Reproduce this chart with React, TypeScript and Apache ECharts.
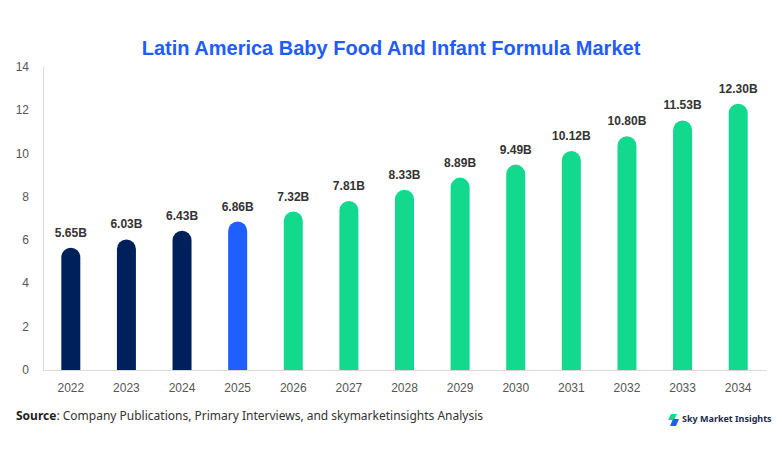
import React, { useEffect, useRef } from "react";
import * as echarts from "echarts";

const years = ["2022", "2023", "2024", "2025", "2026", "2027", "2028", "2029", "2030", "2031", "2032", "2033", "2034"];
const values = [5.65, 6.03, 6.43, 6.86, 7.32, 7.81, 8.33, 8.89, 9.49, 10.12, 10.8, 11.53, 12.3];
const labels = ["5.65B", "6.03B", "6.43B", "6.86B", "7.32B", "7.81B", "8.33B", "8.89B", "9.49B", "10.12B", "10.80B", "11.53B", "12.30B"];
const barColors = ["#00205B", "#00205B", "#00205B", "#1F5FFF", "#12D98E", "#12D98E", "#12D98E", "#12D98E", "#12D98E", "#12D98E", "#12D98E", "#12D98E", "#12D98E"];

export default function App() {
  const ref = useRef<HTMLDivElement>(null);
  useEffect(() => {
    if (!ref.current) return;
    const chart = echarts.init(ref.current, null, { renderer: "svg" });
    chart.setOption({
      animation: false,
      title: {
        text: "Latin America Baby Food And Infant Formula Market",
        left: "center",
        top: 25,
        textStyle: { fontFamily: "Liberation Sans", fontSize: 20, fontWeight: "bold", color: "#1F5BFF" },
      },
      grid: { left: 35, right: 8, top: 59, bottom: 76, containLabel: false },
      xAxis: {
        type: "category",
        data: years,
        axisLine: { show: true, lineStyle: { color: "#D9D9D9" } },
        axisTick: { show: false },
        axisLabel: { color: "#555", fontFamily: "Liberation Sans", fontSize: 12, margin: 12 },
      },
      yAxis: {
        type: "value",
        min: 0,
        max: 14,
        interval: 2,
        axisLine: { show: true, lineStyle: { color: "#D9D9D9" } },
        axisTick: { show: false },
        splitLine: { show: false },
        axisLabel: { color: "#555", fontFamily: "Liberation Sans", fontSize: 12, margin: 14 },
      },
      series: [
        {
          type: "bar",
          barWidth: 19,
          data: values.map((v, i) => ({ value: v, itemStyle: { color: barColors[i] } })),
          itemStyle: { borderRadius: [10, 10, 0, 0] },
          label: {
            show: true,
            position: "top",
            distance: 9,
            formatter: (p: any) => labels[p.dataIndex],
            color: "#333",
            fontFamily: "Liberation Sans",
            fontSize: 12,
            fontWeight: "bold",
          },
        },
      ],
      graphic: [
        {
          type: "text",
          left: 8,
          top: 401,
          style: {
            rich: {
              b: { fontFamily: "Noto Sans", fontSize: 12, fontWeight: "bold", fill: "#222" },
              n: { fontFamily: "Noto Sans", fontSize: 12, fill: "#333" },
            },
            text: "{b|Source}{n|: Company Publications, Primary Interviews, and skymarketinsights Analysis}",
          },
        },
        {
          type: "polygon",
          shape: { points: [[663, 406], [669, 406], [666, 412], [660, 412]] },
          style: { fill: "#12D98E" },
        },
        {
          type: "polygon",
          shape: { points: [[665, 411], [671, 411], [668, 418], [662, 418]] },
          style: { fill: "#1F5FFF" },
        },
        {
          type: "text",
          left: 674,
          top: 406,
          style: { text: "Sky Market Insights", fontFamily: "Noto Sans", fontSize: 9, fontWeight: "bold", fill: "#1B2A4A" },
        },
      ],
    });
    return () => chart.dispose();
  }, []);
  return <div ref={ref} style={{ width: 766, height: 438 }} />;
}
